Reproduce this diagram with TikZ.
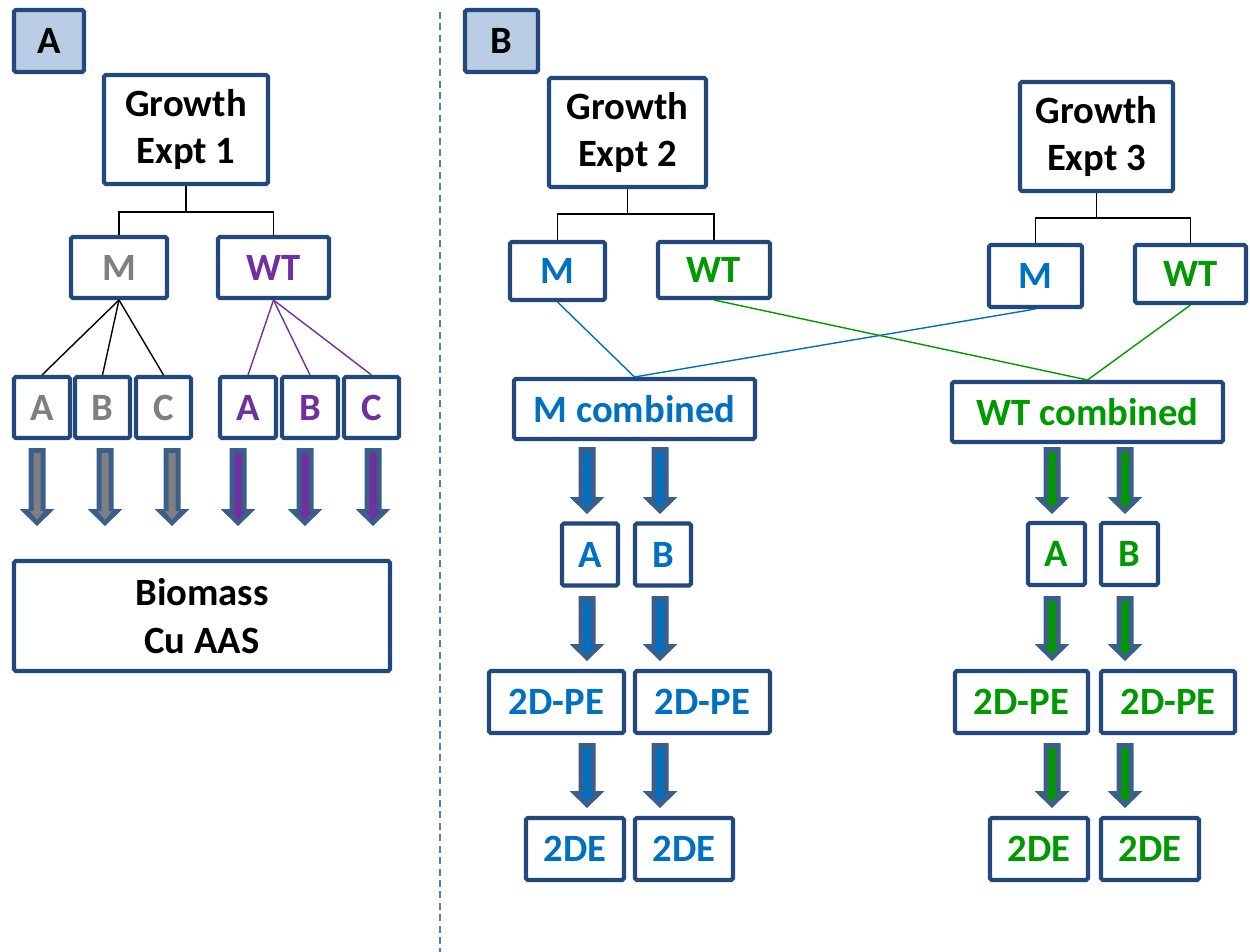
\documentclass[tikz,border=0pt]{standalone}
\usepackage{fontspec}
\setmainfont{Carlito}
\definecolor{boxblue}{RGB}{35,73,124}
\definecolor{arrblue}{RGB}{59,94,141}
\definecolor{tagfill}{RGB}{185,205,229}
\definecolor{mgray}{RGB}{127,127,127}
\definecolor{wpurple}{RGB}{112,48,160}
\definecolor{mblue}{RGB}{0,112,192}
\definecolor{wgreen}{RGB}{0,153,0}
\definecolor{sepline}{RGB}{79,129,189}

\tikzset{
	box/.style={draw=boxblue, line width=2.3pt, rounded corners=1pt, fill=white,
		inner sep=0pt, align=center, font=\fontsize{22}{27}\selectfont\bfseries},
	sz/.style 2 args={minimum width=#1*0.02cm, minimum height=#2*0.02cm},
	tag/.style={box, fill=tagfill},
	tree/.style={line width=0.8pt},
}
\tikzset{
	pics/darr/.style 2 args={
		code={
\fill[arrblue] (-8.5,0)--(8.5,0)--(8.5,#2-17)--(17.5,#2-17)--(0,#2)--(-17.5,#2-17)--(-8.5,#2-17)--cycle;
\fill[#1] (-3.5,5)--(3.5,5)--(3.5,#2-15)--(7,#2-15)--(0,#2-6)--(-7,#2-15)--(-3.5,#2-15)--cycle;
		}
	}
}

\begin{document}
\begin{tikzpicture}[x=0.02cm,y=-0.02cm]
\useasboundingbox (0,0) rectangle (1250,952);

%separator
\draw[sepline, line width=0.6pt, dash pattern=on 4pt off 2.5pt] (440,12)--(440,952);

%part A
\node[tag, sz={70}{62}] (tagA) at (49,41) {A};
\node[box, sz={164}{109}] (g1) at (186,129.5) {Growth\\Expt 1};
\node[box, sz={96}{61}, text=mgray] (m1) at (119,267.5) {M};
\node[box, sz={111}{61}, text=wpurple] (w1) at (273.5,267.5) {WT};

\node[box, sz={56}{61}, text=mgray] (a1) at (42,407.5) {A};
\node[box, sz={55}{61}, text=mgray] (b1) at (102.5,407.5) {B};
\node[box, sz={55}{61}, text=mgray] (c1) at (163.5,407.5) {C};
\node[box, sz={56}{61}, text=wpurple] (a1w) at (248,407.5) {A};
\node[box, sz={56}{61}, text=wpurple] (b1w) at (310,407.5) {B};
\node[box, sz={55}{61}, text=wpurple] (c1w) at (371.5,407.5) {C};

\node[box, sz={376}{110}] (bio) at (202,616) {Biomass\\Cu AAS};

\draw[tree] (g1.south) -- ++(0,26) coordinate (g1f);
\draw[tree] (g1f) -| (m1.north);
\draw[tree] (g1f) -| (w1.north);
\draw[tree] (m1.south) -- (a1.north);
\draw[tree] (m1.south) -- (b1.north);
\draw[tree] (m1.south) -- (c1.north);
\draw[tree, wpurple] (w1.south) -- (a1w.north);
\draw[tree, wpurple] (w1.south) -- (b1w.north);
\draw[tree, wpurple] (w1.south) -- (c1w.north);

\path (37,448) pic {darr={mgray}{78}};
\path (105,448) pic {darr={mgray}{78}};
\path (172,448) pic {darr={mgray}{78}};
\path (238,448) pic {darr={wpurple}{78}};
\path (305,448) pic {darr={wpurple}{78}};
\path (373,448) pic {darr={wpurple}{78}};

%part B
\node[tag, sz={73}{62}] (tagB) at (501.5,41) {B};
\node[box, sz={157}{109}] (g2) at (627.5,132.5) {Growth\\Expt 2};
\node[box, sz={153}{109}] (g3) at (1096.5,136.5) {Growth\\Expt 3};
\node[box, sz={95}{58}, text=mblue] (m2) at (557.5,271) {M};
\node[box, sz={112}{56}, text=wgreen] (w2) at (714,270) {WT};
\node[box, sz={93}{62}, text=mblue] (m3) at (1035.5,276) {M};
\node[box, sz={111}{58}, text=wgreen] (w3) at (1190.5,274) {WT};

\node[box, sz={241}{60}, text=mblue] (mc) at (634.5,409) {M combined};
\node[box, sz={271}{60}, text=wgreen] (wc) at (1087.5,412) {WT combined};

\draw[tree] (g2.south) -- ++(0,25) coordinate (g2f);
\draw[tree] (g2f) -| (m2.north);
\draw[tree] (g2f) -| (w2.north);
\draw[tree] (g3.south) -- ++(0,25) coordinate (g3f);
\draw[tree] (g3f) -| (m3.north);
\draw[tree] (g3f) -| (w3.north);

\draw[tree, mblue] (m2.south) -- (mc.north);
\draw[tree, mblue] (m3.south) -- (mc.north);
\draw[tree, wgreen] (w2.south) -- (wc.north);
\draw[tree, wgreen] (w3.south) -- (wc.north);

\node[box, sz={56}{62}, text=mblue] (a2) at (590,554.5) {A};
\node[box, sz={56}{62}, text=mblue] (b2) at (663,554.5) {B};
\node[box, sz={57}{62}, text=wgreen] (a3) at (1056.5,554) {A};
\node[box, sz={57}{62}, text=wgreen] (b3) at (1129.5,554) {B};

\node[box, sz={135}{62}, text=mblue] (pe2a) at (556.5,702) {2D-PE};
\node[box, sz={135}{62}, text=mblue] (pe2b) at (702.5,702) {2D-PE};
\node[box, sz={133}{62}, text=wgreen] (pe3a) at (1021.5,702) {2D-PE};
\node[box, sz={134}{62}, text=wgreen] (pe3b) at (1168,702) {2D-PE};

\node[box, sz={98}{62}, text=mblue] (de2a) at (575,849) {2DE};
\node[box, sz={98}{62}, text=mblue] (de2b) at (684,849) {2DE};
\node[box, sz={98}{62}, text=wgreen] (de3a) at (1039,849) {2DE};
\node[box, sz={98}{62}, text=wgreen] (de3b) at (1150,849) {2DE};

\path (587,447) pic {darr={mblue}{67}};
\path (660,447) pic {darr={mblue}{67}};
\path (1052,447) pic {darr={wgreen}{67}};
\path (1125,447) pic {darr={wgreen}{67}};
\path (587,596) pic {darr={mblue}{65}};
\path (660,596) pic {darr={mblue}{65}};
\path (1052,596) pic {darr={wgreen}{65}};
\path (1125,596) pic {darr={wgreen}{65}};
\path (587,743) pic {darr={mblue}{65}};
\path (660,743) pic {darr={mblue}{65}};
\path (1052,743) pic {darr={wgreen}{65}};
\path (1125,743) pic {darr={wgreen}{65}};
\end{tikzpicture}
\end{document}
